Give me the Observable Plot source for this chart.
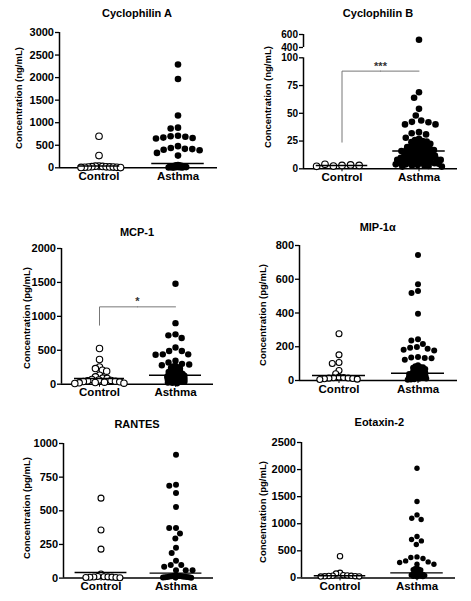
<!DOCTYPE html>
<html><head><meta charset="utf-8">
<script src="https://cdn.jsdelivr.net/npm/d3@7"></script>
<script src="https://cdn.jsdelivr.net/npm/@observablehq/plot@0.6"></script>
<style>
body{margin:0;background:#fff;font-family:"Liberation Sans",Arial,sans-serif;}
#root{position:relative;width:471px;height:601px;overflow:hidden;}
.panel{position:absolute;}
.title{position:absolute;font-weight:bold;font-size:11px;transform:translate(-50%,-50%);white-space:nowrap;color:#000;}
.ylab{position:absolute;font-weight:bold;font-size:9.5px;transform:translate(-50%,-50%) rotate(-90deg);white-space:nowrap;color:#000;}
</style></head><body><div id="root"></div><script>
const groups = ["Control", "Asthma"];

// Cyclophilin A (ng/mL)
const cypAControl = [700, 270, 40, 35, 30, 25, 22, 20, 18, 15, 12, 10, 8, 5];
const cypAAsthma = [2290, 1970, 1160, 890, 870, 710, 700, 690, 670, 660, 650, 480, 440, 420, 415, 400, 390, 330, 270,
  60, 55, 50, 45, 42, 40, 38, 35, 32, 30, 28, 25, 22, 20, 18, 16, 14, 12, 10, 8, 6, 5];
const cypAMedian = [40, 95];
const cypATicks = [0, 500, 1000, 1500, 2000, 2500, 3000];

// Cyclophilin B (ng/mL)
const cypBControl = [3, 2.5, 3.5, 4, 3, 2.2];
const cypBAsthma = [520, 69, 64, 54, 48, 43.5, 42.3, 42, 40, 40, 33, 32, 31, 28, 27,
  26, 25, 24.5, 24, 23, 22.5, 22, 21, 20.5, 20, 19.5, 19, 18, 18, 17.5, 17, 16.5, 16, 16, 15.5, 15, 14, 14, 13.5, 13,
  12.5, 12, 12, 11, 11, 10.5, 10, 10, 9.5, 9, 9, 8.5, 8, 8, 7.5, 7, 7, 6.5, 6, 6, 5.5, 5, 5, 4.5, 4, 4, 3.5, 3, 3, 2.5, 2, 2];
const cypBMedian = [3, 16];
const cypBTicks = [0, 25, 50, 75, 100, 400, 600];
const cypBBracket = [24, 88];
const cypBSig = "***";

// MCP-1 (pg/mL)
const mcpControl = [526, 364, 255, 231, 206, 192, 133, 108, 90, 85, 70, 62, 55, 50, 45, 40, 35, 30, 25, 20, 15, 10];
const mcpAsthma = [1480, 900, 735, 720, 680, 540, 490, 490, 440, 440, 435, 345, 320, 300, 290, 280, 270, 260, 250, 240,
  235, 225, 215, 210, 200, 195, 185, 180, 175, 170, 160, 155, 150, 145, 140, 135, 130, 125, 120, 115, 110, 105, 100,
  95, 90, 85, 80, 75, 70, 65, 60, 55, 50, 45, 40, 35, 30, 25, 20, 15];
const mcpMedian = [84, 133];
const mcpTicks = [0, 500, 1000, 1500, 2000];
const mcpBracket = [870, 1140];
const mcpSig = "*";

// MIP-1α (pg/mL)
const mipControl = [277, 152, 107, 101, 59, 40, 20, 18, 16, 15, 14, 12, 10, 8, 6];
const mipAsthma = [743, 571, 530, 518, 395, 245, 237, 217, 198, 194, 188, 182, 178, 140, 136, 134, 132, 123,
  90, 85, 80, 78, 75, 70, 68, 65, 60, 58, 55, 50, 48, 45, 42, 40, 38, 35, 32, 30, 28, 25, 22, 20, 18, 15, 12, 10, 8, 6, 5];
const mipMedian = [30, 43];
const mipTicks = [0, 200, 400, 600, 800];

// RANTES (pg/mL)
const rantesControl = [594, 357, 215, 30, 12, 10, 9, 8, 7, 6, 5, 4, 3];
const rantesAsthma = [916, 693, 686, 632, 528, 372, 372, 331, 294, 225, 186, 129, 97, 97, 84, 59, 59, 59,
  20, 18, 16, 15, 14, 12, 11, 10, 9, 8, 7, 6, 5, 4, 3];
const rantesMedian = [42, 37];
const rantesTicks = [0, 250, 500, 750, 1000];

// Eotaxin-2 (pg/mL)
const eotControl = [400, 93, 80, 50, 45, 40, 38, 35, 32, 30, 28, 25];
const eotAsthma = [2025, 1410, 1163, 1102, 1078, 764, 709, 683, 617, 388, 377, 358, 314, 295, 284, 253, 253,
  180, 170, 160, 150, 145, 140, 100, 90, 80, 75, 70, 65, 60, 55, 50, 45, 40, 35, 30, 25, 20];
const eotMedian = [40, 93];
const eotTicks = [0, 500, 1000, 1500, 2000, 2500];

const panels = [
  {title: "Cyclophilin A", ylabel: "Concentration (ng/mL)", control: cypAControl, asthma: cypAAsthma, median: cypAMedian, ticks: cypATicks,
   domain: [0, 3000], left: 0, w: 235, axisX: 58, xRight: 217, yPix: [167.3, 32], r: 3.3, split: 100, rdC: 1.8, rdA: 0.7, medLen: [42, 53],
   tx: 137, ty: 13, lx: 18, ly: 98},
  {title: "Cyclophilin B", ylabel: "Concentration (ng/mL)", control: cypBControl, asthma: cypBAsthma, median: cypBMedian, ticks: cypBTicks,
   domain: [0, 100, 400, 600], broken: true, left: 235, w: 236, axisX: 302, xRight: 457, yPix: [168, 57, 46.7, 33.7], r: 3.3, split: 28, rdC: 4.3, rdA: 2.1, medLen: [52, 53],
   bracket: cypBBracket, sig: cypBSig, tx: 378, ty: 13, lx: 266.7, ly: 97, tickFont: 10},
  {title: "MCP-1", ylabel: "Concentration (pg/mL)", control: mcpControl, asthma: mcpAsthma, median: mcpMedian, ticks: mcpTicks,
   domain: [0, 2000], left: 0, w: 235, axisX: 61, xRight: 213, yPix: [384, 248.3], r: 3.2, split: 280, rdC: 2.2, rdA: 1.25, medLen: [50, 52],
   bracket: mcpBracket, sig: mcpSig, tx: 137, ty: 231.7, lx: 26, ly: 318},
  {title: "MIP-1α", ylabel: "Concentration (pg/mL)", control: mipControl, asthma: mipAsthma, median: mipMedian, ticks: mipTicks,
   domain: [0, 800], left: 235, w: 236, axisX: 298.7, xRight: 456.7, yPix: [380, 245], r: 3, split: 100, rdC: 2.3, rdA: 1.4, medLen: [53, 53],
   tx: 377.7, ty: 226.7, lx: 262.3, ly: 315},
  {title: "RANTES", ylabel: "Concentration (pg/mL)", control: rantesControl, asthma: rantesAsthma, median: rantesMedian, ticks: rantesTicks,
   domain: [0, 1000], left: 0, w: 235, axisX: 62.7, xRight: 213, yPix: [577.3, 442.7], r: 3, split: 40, rdC: 2, rdA: 1.1, medLen: [52, 52],
   tx: 137, ty: 424, lx: 26, ly: 508},
  {title: "Eotaxin-2", ylabel: "Concentration (pg/mL)", control: eotControl, asthma: eotAsthma, median: eotMedian, ticks: eotTicks,
   domain: [0, 2500], left: 235, w: 236, axisX: 300, xRight: 455, yPix: [577.7, 442.3], r: 2.7, split: 200, rdC: 2, rdA: 1.05, medLen: [52, 53],
   tx: 379.3, ty: 421.7, lx: 262.3, ly: 512}
];

const root = document.getElementById("root");

function dots(values, group, cfg, rd, style) {
  const rows = values.map(value => ({group, value}));
  const dense = rows.filter(d => d.value < cfg.split);
  const sparse = rows.filter(d => d.value >= cfg.split);
  const opts = {fx: "group", y: "value", r: cfg.r, ...style};
  return [
    Plot.dot(dense, Plot.dodgeX({anchor: "middle", padding: 0, r: rd}, opts)),
    Plot.dot(sparse, Plot.dodgeX({anchor: "middle", padding: 0, r: cfg.r + 0.4}, opts))
  ];
}

function makePanel(cfg) {
  const top = cfg.yPix[cfg.yPix.length - 1] - 25;
  const height = Math.round(cfg.yPix[0] - top + 32);
  const width = cfg.w;
  const mL = cfg.axisX - cfg.left, mR = cfg.left + width - cfg.xRight;
  const fw = (cfg.xRight - cfg.axisX) / 2;
  const meds = groups.map((group, i) => ({group, value: cfg.median[i], inset: (fw - cfg.medLen[i]) / 2}));
  const d = cfg.domain;
  const segs = cfg.broken
    ? [{group: "Control", y1: d[0], y2: d[1]}, {group: "Control", y1: d[2], y2: d[3]}]
    : [{group: "Control", y1: d[0], y2: d[d.length - 1]}];
  const marks = [
    Plot.ruleY([0], {stroke: "black", strokeWidth: 1.5}),
    Plot.ruleX(segs, {fx: "group", x: () => 0, y1: "y1", y2: "y2", stroke: "black", strokeWidth: 1.5}),
    Plot.axisY({ticks: cfg.ticks, tickFormat: v => String(v), tickSize: 4, tickPadding: 1.5, fontSize: cfg.tickFont || 11, label: null, strokeWidth: 1.3}),
    Plot.axisFx({anchor: "bottom", label: null, tickSize: 3, tickPadding: 1, fontSize: 11.5}),
    ...dots(cfg.control, "Control", cfg, cfg.rdC, {fill: "white", stroke: "black", strokeWidth: 1.1}),
    ...dots(cfg.asthma, "Asthma", cfg, cfg.rdA, {fill: "black"})
  ];
  for (const m of meds) {
    marks.push(Plot.tickY([m], {fx: "group", y: "value", insetLeft: m.inset, insetRight: m.inset, stroke: "black", strokeWidth: 1.4}));
  }
  if (cfg.bracket) {
    const [lo, hi] = cfg.bracket;
    const left = [{group: "Control", x: 0.5, y: lo}, {group: "Control", x: 0.5, y: hi}, {group: "Control", x: 1, y: hi}];
    const right = [{group: "Asthma", x: 0, y: hi}, {group: "Asthma", x: 0.5, y: hi}];
    marks.push(Plot.line(left, {fx: "group", x: "x", y: "y", stroke: "#777", strokeWidth: 1}));
    marks.push(Plot.line(right, {fx: "group", x: "x", y: "y", stroke: "#777", strokeWidth: 1}));
    marks.push(Plot.text([{group: "Control", x: 1, y: hi}], {fx: "group", x: "x", y: "y", text: () => cfg.sig, dy: -5, fontSize: 11, fill: "#333"}));
  }
  const svg = Plot.plot({
    width, height,
    marginLeft: mL, marginRight: mR, marginTop: 25, marginBottom: height - (cfg.yPix[0] - top),
    style: {fontFamily: "'Liberation Sans', Arial, sans-serif", fontWeight: "bold", color: "black", background: "transparent", overflow: "visible"},
    fx: {domain: groups, padding: 0},
    x: {domain: [0, 1], axis: null},
    y: {type: "linear", domain: cfg.domain, range: cfg.yPix.map(p => p - top)},
    marks
  });
  svg.classList.add("panel");
  svg.style.left = cfg.left + "px";
  svg.style.top = top + "px";
  root.appendChild(svg);
  const t = document.createElement("div");
  t.className = "title"; t.textContent = cfg.title;
  t.style.left = cfg.tx + "px"; t.style.top = cfg.ty + "px";
  root.appendChild(t);
  const l = document.createElement("div");
  l.className = "ylab"; l.textContent = cfg.ylabel;
  l.style.left = cfg.lx + "px"; l.style.top = cfg.ly + "px";
  root.appendChild(l);
}
panels.forEach(makePanel);
</script></body></html>
